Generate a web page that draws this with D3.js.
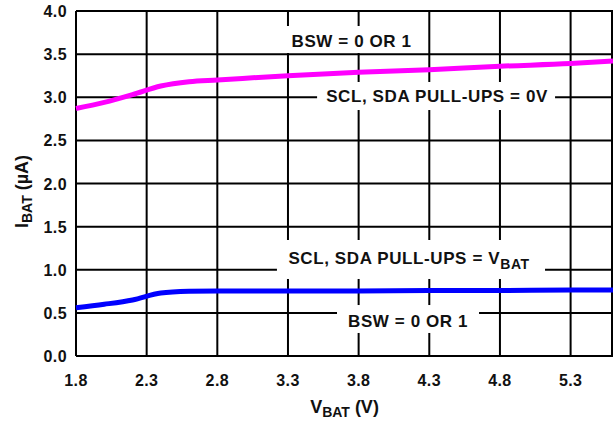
<!DOCTYPE html>
<html>
<head>
<meta charset="utf-8">
<script src="https://cdn.jsdelivr.net/npm/d3@7"></script>
<style>
  body { margin: 0; background: #fff; }
  text { font-family: "Liberation Sans", Arial, sans-serif; font-weight: bold; fill: #111; }
</style>
</head>
<body>
<div id="chart"></div>
<script>
  // V_BAT sample points (V)
  var vbat = [1.8, 2.0, 2.2, 2.4, 2.6, 2.8, 3.3, 3.8, 4.3, 4.8, 5.3, 5.6];
  // I_BAT (uA), SCL/SDA pull-ups = 0V
  var pullup0V = [2.87, 2.94, 3.03, 3.13, 3.18, 3.20, 3.25, 3.29, 3.32, 3.36, 3.39, 3.42];
  // I_BAT (uA), SCL/SDA pull-ups = VBAT
  var pullupVbat = [0.56, 0.60, 0.65, 0.73, 0.75, 0.755, 0.755, 0.755, 0.76, 0.76, 0.765, 0.765];

  var xTicks = [1.8, 2.3, 2.8, 3.3, 3.8, 4.3, 4.8, 5.3];
  var yTicks = [0, 0.5, 1.0, 1.5, 2.0, 2.5, 3.0, 3.5, 4.0];

  // annotation labels: text, subscript, centre x / baseline y (data units), white box extent
  var labels = [
    {text: 'BSW = 0 OR 1', sub: '', x: 3.75, y: 3.58, box: [3.265, 4.27, 3.826, 3.513]},
    {text: 'SCL, SDA PULL-UPS = 0V', sub: '', x: 4.355, y: 2.945, box: [3.506, 5.19, 3.177, 2.852]},
    {text: 'SCL, SDA PULL-UPS = V', sub: 'BAT', x: 4.157, y: 1.067, box: [3.222, 5.119, 1.345, 0.893]},
    {text: 'BSW = 0 OR 1', sub: '', x: 4.15, y: 0.336, box: [3.647, 4.652, 0.591, 0.267]}
  ];

  var width = 613, height = 423;
  var margin = {top: 11, right: 0, bottom: 67, left: 76};

  var svg = d3.select('#chart')
    .append('svg')
    .attr('width', width)
    .attr('height', height);

  var xScale = d3.scaleLinear()
    .domain([1.8, 5.6])
    .range([margin.left, width - margin.right]);
  var yScale = d3.scaleLinear()
    .domain([0, 4])
    .range([height - margin.bottom, margin.top]);

  // grid
  var grid = svg.append('g').attr('stroke', '#000').attr('stroke-width', 2);
  grid.selectAll('.vgrid')
    .data(xTicks)
    .enter()
    .append('line')
    .attr('x1', function(d) { return xScale(d); })
    .attr('x2', function(d) { return xScale(d); })
    .attr('y1', yScale(0))
    .attr('y2', yScale(4));
  grid.selectAll('.hgrid')
    .data(yTicks)
    .enter()
    .append('line')
    .attr('x1', xScale(1.8))
    .attr('x2', xScale(5.6))
    .attr('y1', function(d) { return yScale(d); })
    .attr('y2', function(d) { return yScale(d); });
  grid.append('line')
    .attr('x1', xScale(5.6) - 1).attr('x2', xScale(5.6) - 1)
    .attr('y1', yScale(0)).attr('y2', yScale(4));

  // white boxes behind labels
  svg.selectAll('.labelbox')
    .data(labels)
    .enter()
    .append('rect')
    .attr('fill', '#fff')
    .attr('x', function(d) { return xScale(d.box[0]); })
    .attr('y', function(d) { return yScale(d.box[2]); })
    .attr('width', function(d) { return xScale(d.box[1]) - xScale(d.box[0]); })
    .attr('height', function(d) { return yScale(d.box[3]) - yScale(d.box[2]); });

  // curves
  var line = d3.line()
    .x(function(d) { return xScale(d[0]); })
    .y(function(d) { return yScale(d[1]); })
    .curve(d3.curveMonotoneX);

  svg.append('path')
    .datum(d3.zip(vbat, pullup0V))
    .attr('fill', 'none')
    .attr('stroke', '#ff00ff')
    .attr('stroke-width', 5)
    .attr('d', line);
  svg.append('path')
    .datum(d3.zip(vbat, pullupVbat))
    .attr('fill', 'none')
    .attr('stroke', '#0000ff')
    .attr('stroke-width', 5)
    .attr('d', line);

  // labels
  var lab = svg.selectAll('.label')
    .data(labels)
    .enter()
    .append('text')
    .attr('x', function(d) { return xScale(d.x); })
    .attr('y', function(d) { return yScale(d.y); })
    .attr('text-anchor', 'middle')
    .style('font-size', '17px')
    .style('letter-spacing', '0.6px');
  lab.append('tspan').text(function(d) { return d.text; });
  lab.append('tspan')
    .attr('dy', 5)
    .style('font-size', '14px')
    .text(function(d) { return d.sub; });

  // tick labels
  svg.selectAll('.xtick')
    .data(xTicks)
    .enter()
    .append('text')
    .attr('x', function(d) { return xScale(d); })
    .attr('y', 386)
    .attr('text-anchor', 'middle')
    .style('font-size', '16px')
    .style('letter-spacing', '0.4px')
    .text(function(d) { return d3.format('.1f')(d); });
  svg.selectAll('.ytick')
    .data(yTicks)
    .enter()
    .append('text')
    .attr('x', 67)
    .attr('y', function(d) { return yScale(d) + 6; })
    .attr('text-anchor', 'end')
    .style('font-size', '16px')
    .style('letter-spacing', '0.4px')
    .text(function(d) { return d3.format('.1f')(d); });

  // axis titles
  var xt = svg.append('text')
    .attr('x', (xScale(1.8) + xScale(5.6)) / 2)
    .attr('y', 413)
    .attr('text-anchor', 'middle')
    .style('font-size', '18px');
  xt.append('tspan').text('V');
  xt.append('tspan').attr('dy', 4).style('font-size', '14px').text('BAT');
  xt.append('tspan').attr('dy', -4).text(' (V)');

  var yt = svg.append('text')
    .attr('transform', 'translate(28,' + ((yScale(0) + yScale(4)) / 2 + 8) + ') rotate(-90)')
    .attr('text-anchor', 'middle')
    .style('font-size', '18px');
  yt.append('tspan').text('I');
  yt.append('tspan').attr('dy', 4).style('font-size', '14px').text('BAT');
  yt.append('tspan').attr('dy', -4).text(' (\u00b5A)');
</script>
</body>
</html>
